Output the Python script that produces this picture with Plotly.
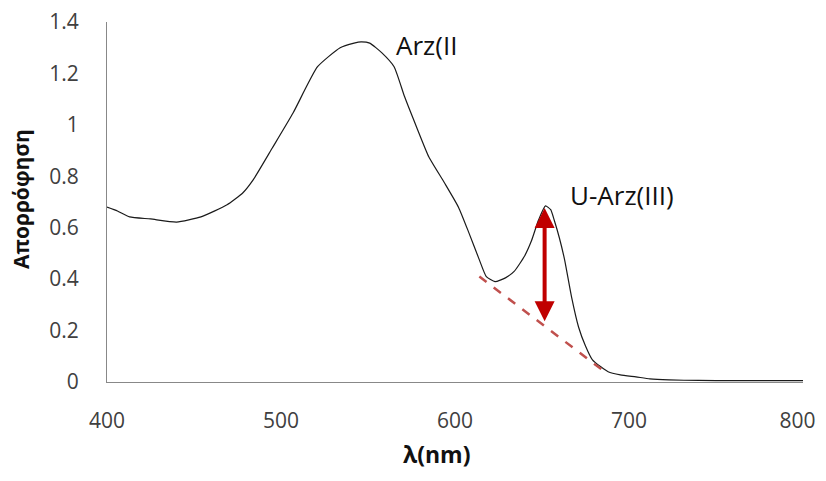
import plotly.graph_objects as go

# Spectrum
wavelength = [400, 406, 413, 425, 440, 454, 469, 478, 484, 495, 507, 521, 534, 542, 546, 551, 558, 565,
              571, 578, 585, 594, 602, 608, 614, 618, 623, 629, 634, 640, 644, 648, 652, 655, 657, 660,
              663, 667, 671, 675, 679, 684, 688, 695, 704, 712, 723, 740, 760, 780, 800]
absorbance = [0.68, 0.665, 0.642, 0.634, 0.622, 0.642, 0.689, 0.735, 0.786, 0.91, 1.047, 1.226, 1.30,
              1.318, 1.323, 1.318, 1.28, 1.226, 1.11, 0.99, 0.875, 0.774, 0.68, 0.58, 0.475, 0.41,
              0.39, 0.405, 0.43, 0.49, 0.55, 0.63, 0.685, 0.67, 0.63, 0.56, 0.475, 0.33, 0.214, 0.14,
              0.086, 0.058, 0.04, 0.028, 0.02, 0.012, 0.008, 0.006, 0.005, 0.005, 0.005]

# Baseline (dashed) and peak-height arrow
baseline_x = [614, 687]
baseline_y = [0.41, 0.035]
arrow_x = 651.5
arrow_top = 0.677
arrow_bottom = 0.23

x_ticks = [400, 500, 600, 700, 800]
x_tick_labels = ["400", "500", "600", "700", "800\u00a0\u00a0"]
y_ticks = [0, 0.2, 0.4, 0.6, 0.8, 1, 1.2, 1.4]
y_tick_labels = ["0", "0.2", "0.4", "0.6", "0.8", "1", "1.2", "1.4"]

font_family = "Open Sans, Noto Sans, sans-serif"

fig = go.Figure()
fig.add_trace(go.Scatter(x=wavelength, y=absorbance, mode="lines",
                         line=dict(color="#1a1a1a", width=1.2, shape="spline", smoothing=0.5),
                         showlegend=False, hoverinfo="skip"))
fig.add_trace(go.Scatter(x=baseline_x, y=baseline_y, mode="lines",
                         line=dict(color="#c0504d", width=2.5, dash="dash"),
                         showlegend=False, hoverinfo="skip"))

fig.add_annotation(x=arrow_x, y=arrow_top, ax=arrow_x, ay=arrow_bottom, xref="x", yref="y",
                   axref="x", ayref="y", showarrow=True, arrowhead=2, arrowside="end+start",
                   arrowsize=1, arrowwidth=4, arrowcolor="#c00000", text="")
fig.add_annotation(x=565, y=1.31, xref="x", yref="y", text="Arz(II", showarrow=False,
                   xanchor="left", yanchor="middle", font=dict(family=font_family, size=26, color="#111"))
fig.add_annotation(x=665, y=0.728, xref="x", yref="y", text="U-Arz(III)", showarrow=False,
                   xanchor="left", yanchor="middle", font=dict(family=font_family, size=26, color="#111"))

# Axis titles as annotations for precise placement
fig.add_annotation(x=0.474, y=-0.25, xref="paper", yref="paper", text="<b>λ(nm)</b>",
                   showarrow=False, xanchor="center", yanchor="bottom",
                   font=dict(family=font_family, size=23, color="#111"))
fig.add_annotation(x=-0.1236, y=0.508, xref="paper", yref="paper", text="<b>Απορρόφηση</b>",
                   showarrow=False, xanchor="center", yanchor="middle", textangle=-90,
                   font=dict(family=font_family, size=21, color="#111"))

# The page body adds an 8px offset on every side; size/margins compensate for it
fig.update_layout(
    width=810, height=465,
    margin=dict(l=99, r=15, t=14, b=91),
    paper_bgcolor="white", plot_bgcolor="white",
    font=dict(family=font_family, color="#333"),
)
fig.update_xaxes(range=[400, 800], tickvals=x_ticks, ticktext=x_tick_labels, showgrid=False,
                 zeroline=False, showline=True, linecolor="#888", linewidth=1, ticks="",
                 automargin=False, ticklabeloverflow="allow",
                 ticklabelstandoff=20, tickfont=dict(size=21, color="#404040"))
fig.update_yaxes(range=[0, 1.4], tickvals=y_ticks, ticktext=y_tick_labels, showgrid=False,
                 zeroline=False, showline=True, linecolor="#888", linewidth=1, ticks="",
                 automargin=False, ticklabeloverflow="allow",
                 ticklabelstandoff=23, tickfont=dict(size=21, color="#404040"))

fig.write_html("out.html")
